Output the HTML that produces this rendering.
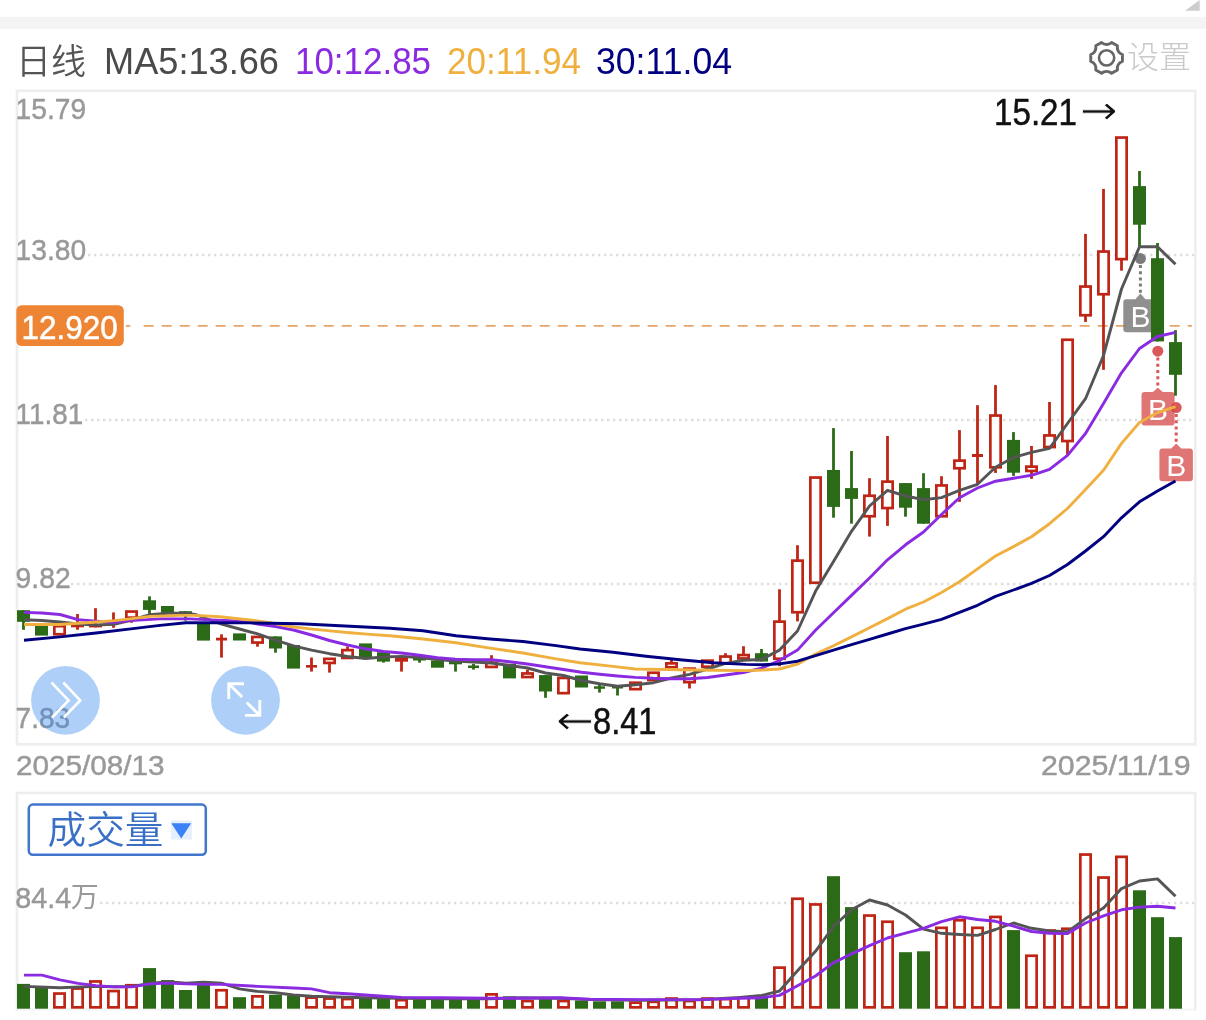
<!DOCTYPE html>
<html lang="zh-CN"><head><meta charset="utf-8"><title>日线</title>
<style>html,body{margin:0;padding:0;background:#fff;}body{width:1206px;height:1020px;overflow:hidden;font-family:"Liberation Sans","Noto Sans CJK SC",sans-serif;}svg{display:block;}.ax{font-family:"Liberation Sans","Noto Sans CJK SC",sans-serif;fill:#999;}.hd{font-family:"Liberation Sans","Noto Sans CJK SC",sans-serif;font-size:36px;}.ma{fill:none;stroke-width:2.9;stroke-linejoin:round;stroke-linecap:butt;}</style></head><body>
<svg width="1206" height="1020" viewBox="0 0 1206 1020">
<rect x="0" y="0" width="1206" height="1020" fill="#fff"/>
<rect x="0" y="16.9" width="1206" height="12" fill="#f4f4f4"/>
<polygon points="1199.7,0 1199.7,10.8 1185,10.8" fill="#cdcdcd"/>
<text class="hd" x="16" y="74" font-weight="350" fill="#555" style="font-size:35px">日线</text>
<text class="hd" x="104" y="73.8" fill="#4a4a4a" textLength="175" lengthAdjust="spacingAndGlyphs">MA5:13.66</text>
<text class="hd" x="295" y="73.8" fill="#8a2be2" textLength="136" lengthAdjust="spacingAndGlyphs">10:12.85</text>
<text class="hd" x="447" y="73.8" fill="#f0b040" textLength="134" lengthAdjust="spacingAndGlyphs">20:11.94</text>
<text class="hd" x="596" y="73.8" fill="#000080" textLength="136" lengthAdjust="spacingAndGlyphs">30:11.04</text>
<path d="M1122.45,54.53 L1122.45,61.27 A7.4,7.4 0 0 0 1117.44,69.94 L1111.61,73.31 A7.4,7.4 0 0 0 1101.59,73.31 L1095.76,69.94 A7.4,7.4 0 0 0 1090.75,61.27 L1090.75,54.53 A7.4,7.4 0 0 0 1095.76,45.86 L1101.59,42.49 A7.4,7.4 0 0 0 1111.61,42.49 L1117.44,45.86 A7.4,7.4 0 0 0 1122.45,54.53Z" fill="none" stroke="#666" stroke-width="2.9" stroke-linejoin="round"/>
<circle cx="1106.6" cy="57.9" r="7.6" fill="none" stroke="#666" stroke-width="2.6"/>
<text x="1127" y="67.8" font-size="31" font-weight="300" fill="#cacaca" style="font-family:'Liberation Sans','Noto Sans CJK SC',sans-serif" textLength="64" lengthAdjust="spacingAndGlyphs">设置</text>
<rect x="17" y="90.8" width="1178.3" height="653.6" fill="none" stroke="#eeeeee" stroke-width="2.7"/>
<line x1="88" y1="255" x2="1194" y2="255" stroke="#dedede" stroke-width="2.4" stroke-dasharray="2.4 3.6"/>
<line x1="85" y1="420" x2="1194" y2="420" stroke="#dedede" stroke-width="2.4" stroke-dasharray="2.4 3.6"/>
<line x1="71" y1="584" x2="1194" y2="584" stroke="#dedede" stroke-width="2.4" stroke-dasharray="2.4 3.6"/>
<text class="ax" x="15.6" y="118.7" font-size="30" stroke="#999" stroke-width="0.45" textLength="70.5" lengthAdjust="spacingAndGlyphs">15.79</text>
<text class="ax" x="15.6" y="259.6" font-size="30" stroke="#999" stroke-width="0.45" textLength="70.5" lengthAdjust="spacingAndGlyphs">13.80</text>
<text class="ax" x="15.6" y="424" font-size="30" stroke="#999" stroke-width="0.45" textLength="67.5" lengthAdjust="spacingAndGlyphs">11.81</text>
<text class="ax" x="15.6" y="587.5" font-size="30" stroke="#999" stroke-width="0.45" textLength="55" lengthAdjust="spacingAndGlyphs">9.82</text>
<text class="ax" x="15.6" y="728" font-size="30" stroke="#999" stroke-width="0.45" textLength="54.5" lengthAdjust="spacingAndGlyphs">7.83</text>
<text class="ax" x="16" y="774.6" font-size="28" stroke="#999" stroke-width="0.45" textLength="148.5" lengthAdjust="spacingAndGlyphs">2025/08/13</text>
<text class="ax" x="1041" y="774.8" font-size="28" stroke="#999" stroke-width="0.45" textLength="149.5" lengthAdjust="spacingAndGlyphs">2025/11/19</text>
<line x1="125.8" y1="325.9" x2="130.3" y2="325.9" stroke="#e5a46a" stroke-width="1.8"/>
<line x1="143.7" y1="325.9" x2="1192" y2="325.9" stroke="#e5a46a" stroke-width="1.8" stroke-dasharray="10 8"/>
<g>
<line x1="1140.4" y1="265.0" x2="1140.4" y2="294.6" stroke="rgba(105,105,105,0.88)" stroke-width="3" stroke-dasharray="3 3.2"/>
<circle cx="1140.4" cy="258.6" r="5.5" fill="rgba(105,105,105,0.88)"/>
<path d="M1126.3,299.2 L1135.4,299.2 L1140.4,293.6 L1145.4,299.2 L1154.5,299.2 Q1157.5,299.2 1157.5,302.2 L1157.5,329.2 Q1157.5,332.2 1154.5,332.2 L1126.3,332.2 Q1123.3,332.2 1123.3,329.2 L1123.3,302.2 Q1123.3,299.2 1126.3,299.2Z" fill="rgba(118,118,118,0.82)"/>
<text x="1140.3999999999999" y="326.7" font-size="30" fill="#fff" text-anchor="middle" style="font-family:'Liberation Sans',sans-serif">B</text>
</g>
<g>
<line x1="1157.8" y1="357.59999999999997" x2="1157.8" y2="388.7" stroke="rgba(214,70,70,0.9)" stroke-width="3" stroke-dasharray="3 3.2"/>
<circle cx="1157.8" cy="351.2" r="5.5" fill="rgba(214,70,70,0.9)"/>
<path d="M1144.5,392.1 L1152.8,392.1 L1157.8,387.7 L1162.8,392.1 L1171.6,392.1 Q1174.6,392.1 1174.6,395.1 L1174.6,422.5 Q1174.6,425.5 1171.6,425.5 L1144.5,425.5 Q1141.5,425.5 1141.5,422.5 L1141.5,395.1 Q1141.5,392.1 1144.5,392.1Z" fill="rgba(217,90,90,0.84)"/>
<text x="1158.05" y="420.0" font-size="30" fill="#fff" text-anchor="middle" style="font-family:'Liberation Sans',sans-serif">B</text>
</g>
<g>
<line x1="1176.2" y1="414.0" x2="1176.2" y2="444.4" stroke="rgba(214,70,70,0.9)" stroke-width="3" stroke-dasharray="3 3.2"/>
<circle cx="1176.2" cy="407.6" r="5.5" fill="rgba(214,70,70,0.9)"/>
<path d="M1162.4,448.4 L1171.2,448.4 L1176.2,443.4 L1181.2,448.4 L1189.9,448.4 Q1192.9,448.4 1192.9,451.4 L1192.9,478.2 Q1192.9,481.2 1189.9,481.2 L1162.4,481.2 Q1159.4,481.2 1159.4,478.2 L1159.4,451.4 Q1159.4,448.4 1162.4,448.4Z" fill="rgba(217,90,90,0.84)"/>
<text x="1176.15" y="475.7" font-size="30" fill="#fff" text-anchor="middle" style="font-family:'Liberation Sans',sans-serif">B</text>
</g>
<g>
<line x1="23.5" y1="610.2" x2="23.5" y2="629.8" stroke="#2b6a17" stroke-width="2.8"/><rect x="17.00" y="610.2" width="13.0" height="11.60" fill="#2b6a17"/>
<rect x="35.00" y="624.0" width="13.0" height="11.60" fill="#2b6a17"/>
<rect x="54.35" y="626.15" width="10.30" height="8.10" fill="#fff" stroke="#bf2515" stroke-width="2.7"/>
<line x1="77.5" y1="614.0" x2="77.5" y2="625.5" stroke="#bf2515" stroke-width="2.8"/><line x1="77.5" y1="626.3" x2="77.5" y2="629.8" stroke="#bf2515" stroke-width="2.8"/><rect x="71.00" y="624.5" width="13.0" height="2.80" fill="#bf2515"/>
<line x1="95.5" y1="608.2" x2="95.5" y2="625.8" stroke="#bf2515" stroke-width="2.8"/><line x1="95.5" y1="626.4" x2="95.5" y2="627.4" stroke="#bf2515" stroke-width="2.8"/><rect x="89.00" y="624.8" width="13.0" height="2.60" fill="#bf2515"/>
<line x1="113.5" y1="612.4" x2="113.5" y2="622.8" stroke="#bf2515" stroke-width="2.8"/><line x1="113.5" y1="621.6" x2="113.5" y2="627.8" stroke="#bf2515" stroke-width="2.8"/><rect x="112.10" y="621.8" width="2.8" height="0.80" fill="#bf2515"/>
<line x1="131.5" y1="618.0" x2="131.5" y2="622.8" stroke="#bf2515" stroke-width="2.8"/><rect x="126.35" y="611.55" width="10.30" height="6.10" fill="#fff" stroke="#bf2515" stroke-width="2.7"/>
<line x1="149.5" y1="596.3" x2="149.5" y2="614.9" stroke="#2b6a17" stroke-width="2.8"/><rect x="143.00" y="600.3" width="13.0" height="9.60" fill="#2b6a17"/>
<rect x="161.00" y="606.0" width="13.0" height="7.00" fill="#2b6a17"/>
<line x1="185.5" y1="611.2" x2="185.5" y2="620.6" stroke="#2b6a17" stroke-width="2.8"/><rect x="179.00" y="611.2" width="13.0" height="4.50" fill="#2b6a17"/>
<rect x="197.00" y="622.5" width="13.0" height="18.10" fill="#2b6a17"/>
<line x1="221.5" y1="634.3" x2="221.5" y2="638.7" stroke="#bf2515" stroke-width="2.8"/><line x1="221.5" y1="639.5" x2="221.5" y2="657.6" stroke="#bf2515" stroke-width="2.8"/><rect x="216.00" y="637.7" width="11.0" height="2.80" fill="#bf2515"/>
<rect x="233.00" y="633.4" width="13.0" height="7.10" fill="#2b6a17"/>
<line x1="257.5" y1="642.9" x2="257.5" y2="646.7" stroke="#bf2515" stroke-width="2.8"/><rect x="252.35" y="636.95" width="10.30" height="5.60" fill="#fff" stroke="#bf2515" stroke-width="2.7"/>
<line x1="275.5" y1="636.4" x2="275.5" y2="652.7" stroke="#2b6a17" stroke-width="2.8"/><rect x="269.00" y="636.4" width="13.0" height="12.10" fill="#2b6a17"/>
<rect x="287.00" y="645.0" width="13.0" height="23.60" fill="#2b6a17"/>
<line x1="311.5" y1="657.5" x2="311.5" y2="666.0" stroke="#bf2515" stroke-width="2.8"/><line x1="311.5" y1="666.6" x2="311.5" y2="671.6" stroke="#bf2515" stroke-width="2.8"/><rect x="306.00" y="665.0" width="11.0" height="2.60" fill="#bf2515"/>
<line x1="329.5" y1="663.3" x2="329.5" y2="672.6" stroke="#bf2515" stroke-width="2.8"/><rect x="324.35" y="658.85" width="10.30" height="4.10" fill="#fff" stroke="#bf2515" stroke-width="2.7"/>
<line x1="347.5" y1="646.4" x2="347.5" y2="649.8" stroke="#bf2515" stroke-width="2.8"/><rect x="342.35" y="650.15" width="10.30" height="7.80" fill="#fff" stroke="#bf2515" stroke-width="2.7"/>
<rect x="359.00" y="643.4" width="13.0" height="14.60" fill="#2b6a17"/>
<line x1="383.5" y1="652.2" x2="383.5" y2="662.6" stroke="#2b6a17" stroke-width="2.8"/><rect x="377.00" y="652.2" width="13.0" height="9.40" fill="#2b6a17"/>
<line x1="401.5" y1="660.7" x2="401.5" y2="671.6" stroke="#bf2515" stroke-width="2.8"/><rect x="396.35" y="657.75" width="10.30" height="2.60" fill="#fff" stroke="#bf2515" stroke-width="2.7"/>
<line x1="419.5" y1="657.2" x2="419.5" y2="662.7" stroke="#2b6a17" stroke-width="2.8"/><rect x="413.00" y="657.2" width="13.0" height="3.30" fill="#2b6a17"/>
<rect x="431.00" y="660.5" width="13.0" height="7.20" fill="#2b6a17"/>
<line x1="455.5" y1="661.7" x2="455.5" y2="671.6" stroke="#2b6a17" stroke-width="2.8"/><rect x="449.00" y="661.7" width="13.0" height="2.60" fill="#2b6a17"/>
<line x1="473.5" y1="663.8" x2="473.5" y2="669.6" stroke="#2b6a17" stroke-width="2.8"/><rect x="468.00" y="665.5" width="11.0" height="2.50" fill="#2b6a17"/>
<line x1="491.5" y1="655.2" x2="491.5" y2="662.4" stroke="#bf2515" stroke-width="2.8"/><rect x="486.35" y="662.75" width="10.30" height="4.20" fill="#fff" stroke="#bf2515" stroke-width="2.7"/>
<rect x="503.00" y="663.8" width="13.0" height="14.60" fill="#2b6a17"/>
<line x1="527.5" y1="669.6" x2="527.5" y2="673.1" stroke="#bf2515" stroke-width="2.8"/><rect x="522.35" y="673.45" width="10.30" height="3.60" fill="#fff" stroke="#bf2515" stroke-width="2.7"/>
<line x1="545.5" y1="675.1" x2="545.5" y2="697.8" stroke="#2b6a17" stroke-width="2.8"/><rect x="539.00" y="675.1" width="13.0" height="16.40" fill="#2b6a17"/>
<rect x="558.35" y="677.95" width="10.30" height="15.20" fill="#fff" stroke="#bf2515" stroke-width="2.7"/>
<rect x="575.00" y="675.5" width="13.0" height="12.00" fill="#2b6a17"/>
<line x1="599.5" y1="684.3" x2="599.5" y2="692.6" stroke="#2b6a17" stroke-width="2.8"/><rect x="594.00" y="686.3" width="11.0" height="2.50" fill="#2b6a17"/>
<line x1="617.5" y1="685.5" x2="617.5" y2="695.5" stroke="#2b6a17" stroke-width="2.8"/><rect x="612.00" y="685.5" width="11.0" height="3.00" fill="#2b6a17"/>
<rect x="630.35" y="682.75" width="10.30" height="6.40" fill="#fff" stroke="#bf2515" stroke-width="2.7"/>
<rect x="648.35" y="672.75" width="10.30" height="7.30" fill="#fff" stroke="#bf2515" stroke-width="2.7"/>
<line x1="671.5" y1="659.8" x2="671.5" y2="663.0" stroke="#bf2515" stroke-width="2.8"/><rect x="666.35" y="663.35" width="10.30" height="3.90" fill="#fff" stroke="#bf2515" stroke-width="2.7"/>
<line x1="689.5" y1="682.5" x2="689.5" y2="688.5" stroke="#bf2515" stroke-width="2.8"/><rect x="684.35" y="668.65" width="10.30" height="13.50" fill="#fff" stroke="#bf2515" stroke-width="2.7"/>
<rect x="702.35" y="660.65" width="10.30" height="6.10" fill="#fff" stroke="#bf2515" stroke-width="2.7"/>
<line x1="725.5" y1="653.2" x2="725.5" y2="656.2" stroke="#bf2515" stroke-width="2.8"/><rect x="720.35" y="656.55" width="10.30" height="6.90" fill="#fff" stroke="#bf2515" stroke-width="2.7"/>
<line x1="743.5" y1="646.2" x2="743.5" y2="654.7" stroke="#bf2515" stroke-width="2.8"/><rect x="738.35" y="655.05" width="10.30" height="3.40" fill="#fff" stroke="#bf2515" stroke-width="2.7"/>
<line x1="761.5" y1="649.0" x2="761.5" y2="661.5" stroke="#2b6a17" stroke-width="2.8"/><rect x="755.00" y="653.2" width="13.0" height="8.30" fill="#2b6a17"/>
<line x1="779.5" y1="589.3" x2="779.5" y2="621.3" stroke="#bf2515" stroke-width="2.8"/><line x1="779.5" y1="659.1" x2="779.5" y2="666.2" stroke="#bf2515" stroke-width="2.8"/><rect x="774.35" y="621.65" width="10.30" height="37.10" fill="#fff" stroke="#bf2515" stroke-width="2.7"/>
<line x1="797.5" y1="545.2" x2="797.5" y2="560.3" stroke="#bf2515" stroke-width="2.8"/><line x1="797.5" y1="612.6" x2="797.5" y2="621.4" stroke="#bf2515" stroke-width="2.8"/><rect x="792.35" y="560.65" width="10.30" height="51.60" fill="#fff" stroke="#bf2515" stroke-width="2.7"/>
<rect x="810.35" y="477.55" width="10.30" height="105.20" fill="#fff" stroke="#bf2515" stroke-width="2.7"/>
<line x1="833.5" y1="428.1" x2="833.5" y2="517.7" stroke="#2b6a17" stroke-width="2.8"/><rect x="827.00" y="470.0" width="13.0" height="36.90" fill="#2b6a17"/>
<line x1="851.5" y1="451.0" x2="851.5" y2="523.7" stroke="#2b6a17" stroke-width="2.8"/><rect x="845.00" y="488.1" width="13.0" height="10.80" fill="#2b6a17"/>
<line x1="869.5" y1="478.2" x2="869.5" y2="495.4" stroke="#bf2515" stroke-width="2.8"/><line x1="869.5" y1="516.6" x2="869.5" y2="536.6" stroke="#bf2515" stroke-width="2.8"/><rect x="864.35" y="495.75" width="10.30" height="20.50" fill="#fff" stroke="#bf2515" stroke-width="2.7"/>
<line x1="887.5" y1="436.0" x2="887.5" y2="481.3" stroke="#bf2515" stroke-width="2.8"/><line x1="887.5" y1="508.4" x2="887.5" y2="525.9" stroke="#bf2515" stroke-width="2.8"/><rect x="882.35" y="481.65" width="10.30" height="26.40" fill="#fff" stroke="#bf2515" stroke-width="2.7"/>
<line x1="905.5" y1="483.1" x2="905.5" y2="516.7" stroke="#2b6a17" stroke-width="2.8"/><rect x="899.00" y="483.1" width="13.0" height="24.60" fill="#2b6a17"/>
<line x1="923.5" y1="473.2" x2="923.5" y2="523.7" stroke="#2b6a17" stroke-width="2.8"/><rect x="917.00" y="488.1" width="13.0" height="35.60" fill="#2b6a17"/>
<line x1="941.5" y1="476.2" x2="941.5" y2="485.1" stroke="#bf2515" stroke-width="2.8"/><rect x="936.35" y="485.45" width="10.30" height="30.80" fill="#fff" stroke="#bf2515" stroke-width="2.7"/>
<line x1="959.5" y1="430.1" x2="959.5" y2="460.3" stroke="#bf2515" stroke-width="2.8"/><line x1="959.5" y1="468.6" x2="959.5" y2="501.9" stroke="#bf2515" stroke-width="2.8"/><rect x="954.35" y="460.65" width="10.30" height="7.60" fill="#fff" stroke="#bf2515" stroke-width="2.7"/>
<line x1="977.5" y1="405.2" x2="977.5" y2="455.0" stroke="#bf2515" stroke-width="2.8"/><line x1="977.5" y1="456.0" x2="977.5" y2="484.8" stroke="#bf2515" stroke-width="2.8"/><rect x="972.00" y="454.0" width="11.0" height="3.00" fill="#bf2515"/>
<line x1="995.5" y1="385.1" x2="995.5" y2="415.2" stroke="#bf2515" stroke-width="2.8"/><line x1="995.5" y1="467.7" x2="995.5" y2="472.9" stroke="#bf2515" stroke-width="2.8"/><rect x="990.35" y="415.55" width="10.30" height="51.80" fill="#fff" stroke="#bf2515" stroke-width="2.7"/>
<line x1="1013.5" y1="432.1" x2="1013.5" y2="475.9" stroke="#2b6a17" stroke-width="2.8"/><rect x="1007.00" y="439.9" width="13.0" height="32.80" fill="#2b6a17"/>
<line x1="1031.5" y1="446.0" x2="1031.5" y2="466.3" stroke="#bf2515" stroke-width="2.8"/><line x1="1031.5" y1="471.3" x2="1031.5" y2="478.9" stroke="#bf2515" stroke-width="2.8"/><rect x="1026.35" y="466.65" width="10.30" height="4.30" fill="#fff" stroke="#bf2515" stroke-width="2.7"/>
<line x1="1049.5" y1="402.0" x2="1049.5" y2="435.1" stroke="#bf2515" stroke-width="2.8"/><rect x="1044.35" y="435.45" width="10.30" height="11.60" fill="#fff" stroke="#bf2515" stroke-width="2.7"/>
<line x1="1067.5" y1="441.4" x2="1067.5" y2="455.8" stroke="#bf2515" stroke-width="2.8"/><rect x="1062.35" y="339.75" width="10.30" height="101.30" fill="#fff" stroke="#bf2515" stroke-width="2.7"/>
<line x1="1085.5" y1="233.9" x2="1085.5" y2="286.2" stroke="#bf2515" stroke-width="2.8"/><line x1="1085.5" y1="315.6" x2="1085.5" y2="321.9" stroke="#bf2515" stroke-width="2.8"/><rect x="1080.35" y="286.55" width="10.30" height="28.70" fill="#fff" stroke="#bf2515" stroke-width="2.7"/>
<line x1="1103.5" y1="188.9" x2="1103.5" y2="251.2" stroke="#bf2515" stroke-width="2.8"/><line x1="1103.5" y1="294.6" x2="1103.5" y2="369.8" stroke="#bf2515" stroke-width="2.8"/><rect x="1098.35" y="251.55" width="10.30" height="42.70" fill="#fff" stroke="#bf2515" stroke-width="2.7"/>
<line x1="1121.5" y1="259.5" x2="1121.5" y2="270.7" stroke="#bf2515" stroke-width="2.8"/><rect x="1116.35" y="137.55" width="10.30" height="121.60" fill="#fff" stroke="#bf2515" stroke-width="2.7"/>
<line x1="1139.5" y1="171.0" x2="1139.5" y2="247.0" stroke="#2b6a17" stroke-width="2.8"/><rect x="1133.00" y="186.1" width="13.0" height="38.60" fill="#2b6a17"/>
<line x1="1157.5" y1="243.0" x2="1157.5" y2="341.4" stroke="#2b6a17" stroke-width="2.8"/><rect x="1151.00" y="258.2" width="13.0" height="83.20" fill="#2b6a17"/>
<line x1="1175.5" y1="330.1" x2="1175.5" y2="395.7" stroke="#2b6a17" stroke-width="2.8"/><rect x="1169.00" y="342.1" width="13.0" height="32.70" fill="#2b6a17"/>
</g>
<polyline class="ma" stroke="#555" points="24.0,619.8 42.0,620.5 60.0,622.0 78.0,624.0 96.0,625.0 114.0,624.3 132.0,620.0 150.0,614.6 168.0,613.2 186.0,613.2 195.0,614.4 203.5,617.5 221.5,624.2 239.5,629.0 257.5,633.8 275.5,640.2 293.5,645.8 311.5,650.2 329.5,653.7 347.5,656.5 365.5,658.5 383.5,657.0 401.5,656.4 419.5,657.5 437.5,659.5 455.5,661.0 473.5,662.0 491.5,663.0 509.5,665.5 527.5,668.0 545.5,673.0 563.5,675.5 581.5,680.5 599.5,683.8 617.5,686.3 635.5,684.7 653.5,682.7 671.5,678.0 689.5,674.4 707.5,669.0 725.5,663.4 743.5,660.3 761.5,659.5 779.5,650.1 797.5,631.0 815.5,591.3 833.5,561.4 851.5,531.3 869.5,506.0 887.5,490.3 905.5,496.0 923.5,499.7 941.5,497.6 959.5,490.3 977.5,484.3 995.5,467.3 1013.5,457.4 1031.5,452.4 1049.5,448.4 1067.5,423.5 1085.5,398.7 1103.5,355.5 1121.5,289.0 1139.5,246.8 1157.5,246.8 1175.5,264.2"/>
<polyline class="ma" stroke="#8a2be2" points="24.0,612.4 42.0,613.0 60.0,614.5 78.0,619.6 96.0,621.2 114.0,622.4 130.0,620.6 160.0,618.9 190.0,618.9 210.0,619.9 230.0,620.8 250.0,622.3 257.5,624.0 275.5,626.5 293.5,630.0 311.5,635.0 329.5,640.5 347.5,645.0 365.5,648.8 383.5,651.5 401.5,653.0 419.5,655.3 437.5,657.8 455.5,659.3 473.5,659.6 491.5,659.8 509.5,661.8 527.5,664.0 545.5,666.8 563.5,669.5 581.5,672.3 599.5,674.3 617.5,676.0 635.5,677.4 653.5,678.3 671.5,678.8 689.5,678.7 707.5,677.5 725.5,675.0 743.5,672.5 761.5,668.2 779.5,660.6 797.5,650.1 815.5,630.2 833.5,612.8 851.5,595.4 869.5,578.0 887.5,559.8 905.5,544.8 923.5,532.0 941.5,514.5 959.5,497.7 977.5,488.0 995.5,481.2 1013.5,478.3 1031.5,475.3 1049.5,469.3 1067.5,455.4 1085.5,433.5 1103.5,403.6 1121.5,372.8 1139.5,348.5 1157.5,336.5 1175.5,332.3"/>
<polyline class="ma" stroke="#f0b040" points="24.0,624.5 60.0,624.5 93.0,622.3 114.0,620.6 130.0,618.9 150.0,616.4 180.0,615.4 195.0,615.4 220.0,616.7 250.0,620.0 270.0,622.6 290.0,626.5 310.0,628.9 330.0,630.9 350.0,632.7 370.0,634.4 390.0,635.7 423.0,639.0 456.0,642.8 490.0,648.1 523.0,653.0 556.0,658.9 580.0,662.8 613.0,666.4 635.0,669.0 680.0,669.8 713.0,670.2 746.0,670.6 763.0,670.0 779.5,669.0 797.5,664.2 815.5,654.0 833.5,645.7 851.5,636.9 869.5,627.7 887.5,618.6 905.5,609.2 923.5,602.0 941.5,592.5 959.5,581.8 977.5,568.9 995.5,556.0 1013.5,546.6 1031.5,536.7 1049.5,523.7 1067.5,508.5 1085.5,489.5 1103.5,470.2 1121.5,443.4 1139.5,422.5 1157.5,412.6 1175.5,406.6"/>
<polyline class="ma" stroke="#000080" points="24.0,640.2 60.0,636.9 96.0,633.0 135.0,628.4 160.0,625.4 186.0,622.8 250.0,622.9 300.0,623.8 390.0,628.2 423.0,630.7 456.0,635.7 490.0,639.0 523.0,641.5 556.0,645.6 580.0,649.0 613.0,652.3 646.0,656.2 680.0,659.8 713.0,662.8 746.0,664.4 763.0,664.8 779.5,663.9 797.5,661.2 815.5,655.6 833.5,650.1 851.5,644.7 869.5,639.4 887.5,634.0 905.5,628.6 923.5,624.1 941.5,619.4 959.5,612.3 977.5,605.3 995.5,596.4 1013.5,590.0 1031.5,583.4 1049.5,575.5 1067.5,564.5 1085.5,551.0 1103.5,536.7 1121.5,517.8 1139.5,501.8 1157.5,490.9 1175.5,480.9"/>
<rect x="16.3" y="305.2" width="107.5" height="40.8" rx="5.5" fill="#ee8535"/>
<text x="21.6" y="339.4" font-size="33" fill="#fff" stroke="#fff" stroke-width="0.5" textLength="96" lengthAdjust="spacingAndGlyphs" style="font-family:'Liberation Sans',sans-serif">12.920</text>
<text x="994" y="125" font-size="36.5" fill="#111" stroke="#111" stroke-width="0.5" textLength="83" lengthAdjust="spacingAndGlyphs" style="font-family:'Liberation Sans',sans-serif">15.21</text>
<text x="1080" y="124" font-size="40" fill="#111" stroke="#fff" stroke-width="0.8" textLength="38" lengthAdjust="spacingAndGlyphs" style="font-family:'DejaVu Sans',sans-serif">→</text>
<text x="593" y="734" font-size="36.5" fill="#111" stroke="#111" stroke-width="0.5" textLength="63.5" lengthAdjust="spacingAndGlyphs" style="font-family:'Liberation Sans',sans-serif">8.41</text>
<text x="556" y="734" font-size="40" fill="#111" stroke="#fff" stroke-width="0.8" textLength="38" lengthAdjust="spacingAndGlyphs" style="font-family:'DejaVu Sans',sans-serif">←</text>
<circle cx="65.5" cy="700.3" r="34.4" fill="rgba(52,135,235,0.4)"/>
<polyline points="51.5,682.5 68.6,700.4 52.1,717.5" fill="none" stroke="#fff" stroke-width="2.6"/>
<polyline points="63.3,682.5 80.2,700.4 63.8,717.5" fill="none" stroke="#fff" stroke-width="2.6"/>
<circle cx="245.5" cy="700.3" r="34.4" fill="rgba(52,135,235,0.4)"/>
<path d="M244,683.7 L228.75,683.7 L228.75,699 M228.75,683.7 L242.1,697.1" fill="none" stroke="#fff" stroke-width="2.9" stroke-linejoin="miter"/>
<path d="M245,715.4 L259.8,715.4 L259.8,700 M259.8,715.4 L246.7,702.5" fill="none" stroke="#fff" stroke-width="2.9" stroke-linejoin="miter"/>
<polyline points="17,1010.5 17,793 1195.3,793 1195.3,1010.5" fill="none" stroke="#eeeeee" stroke-width="2.7"/>
<line x1="15.6" y1="1009.6" x2="1196.6" y2="1009.6" stroke="#f4f4f4" stroke-width="1.8"/>
<line x1="100" y1="903" x2="1194" y2="903" stroke="#dedede" stroke-width="2.4" stroke-dasharray="2.4 3.6"/>
<g>
<rect x="17.00" y="983.9" width="13.0" height="24.80" fill="#2b6a17"/>
<rect x="35.00" y="987.2" width="13.0" height="21.50" fill="#2b6a17"/>
<rect x="54.35" y="993.55" width="10.30" height="13.80" fill="#fff" stroke="#bf2515" stroke-width="2.7"/>
<rect x="72.35" y="988.55" width="10.30" height="18.80" fill="#fff" stroke="#bf2515" stroke-width="2.7"/>
<rect x="90.35" y="981.45" width="10.30" height="25.90" fill="#fff" stroke="#bf2515" stroke-width="2.7"/>
<rect x="108.35" y="991.05" width="10.30" height="16.30" fill="#fff" stroke="#bf2515" stroke-width="2.7"/>
<rect x="126.35" y="985.25" width="10.30" height="22.10" fill="#fff" stroke="#bf2515" stroke-width="2.7"/>
<rect x="143.00" y="968.1" width="13.0" height="40.60" fill="#2b6a17"/>
<rect x="161.00" y="980.1" width="13.0" height="28.60" fill="#2b6a17"/>
<rect x="179.00" y="990.0" width="13.0" height="18.70" fill="#2b6a17"/>
<rect x="197.00" y="983.9" width="13.0" height="24.80" fill="#2b6a17"/>
<rect x="216.35" y="990.25" width="10.30" height="17.10" fill="#fff" stroke="#bf2515" stroke-width="2.7"/>
<rect x="233.00" y="997.2" width="13.0" height="11.50" fill="#2b6a17"/>
<rect x="252.35" y="996.35" width="10.30" height="11.00" fill="#fff" stroke="#bf2515" stroke-width="2.7"/>
<rect x="269.00" y="994.7" width="13.0" height="14.00" fill="#2b6a17"/>
<rect x="287.00" y="995.5" width="13.0" height="13.20" fill="#2b6a17"/>
<rect x="306.35" y="997.65" width="10.30" height="9.70" fill="#fff" stroke="#bf2515" stroke-width="2.7"/>
<rect x="324.35" y="998.55" width="10.30" height="8.80" fill="#fff" stroke="#bf2515" stroke-width="2.7"/>
<rect x="342.35" y="999.05" width="10.30" height="8.30" fill="#fff" stroke="#bf2515" stroke-width="2.7"/>
<rect x="359.00" y="998.0" width="13.0" height="10.70" fill="#2b6a17"/>
<rect x="377.00" y="998.3" width="13.0" height="10.40" fill="#2b6a17"/>
<rect x="396.35" y="1000.15" width="10.30" height="7.20" fill="#fff" stroke="#bf2515" stroke-width="2.7"/>
<rect x="413.00" y="999.7" width="13.0" height="9.00" fill="#2b6a17"/>
<rect x="431.00" y="999.3" width="13.0" height="9.40" fill="#2b6a17"/>
<rect x="449.00" y="999.8" width="13.0" height="8.90" fill="#2b6a17"/>
<rect x="467.00" y="999.8" width="13.0" height="8.90" fill="#2b6a17"/>
<rect x="486.35" y="994.35" width="10.30" height="13.00" fill="#fff" stroke="#bf2515" stroke-width="2.7"/>
<rect x="503.00" y="996.3" width="13.0" height="12.40" fill="#2b6a17"/>
<rect x="522.35" y="1001.05" width="10.30" height="6.30" fill="#fff" stroke="#bf2515" stroke-width="2.7"/>
<rect x="539.00" y="998.8" width="13.0" height="9.90" fill="#2b6a17"/>
<rect x="558.35" y="1001.05" width="10.30" height="6.30" fill="#fff" stroke="#bf2515" stroke-width="2.7"/>
<rect x="575.00" y="1000.5" width="13.0" height="8.20" fill="#2b6a17"/>
<rect x="593.00" y="1001.3" width="13.0" height="7.40" fill="#2b6a17"/>
<rect x="611.00" y="1001.3" width="13.0" height="7.40" fill="#2b6a17"/>
<rect x="630.35" y="1002.65" width="10.30" height="4.70" fill="#fff" stroke="#bf2515" stroke-width="2.7"/>
<rect x="648.35" y="1001.85" width="10.30" height="5.50" fill="#fff" stroke="#bf2515" stroke-width="2.7"/>
<rect x="666.35" y="998.55" width="10.30" height="8.80" fill="#fff" stroke="#bf2515" stroke-width="2.7"/>
<rect x="684.35" y="1001.05" width="10.30" height="6.30" fill="#fff" stroke="#bf2515" stroke-width="2.7"/>
<rect x="702.35" y="998.55" width="10.30" height="8.80" fill="#fff" stroke="#bf2515" stroke-width="2.7"/>
<rect x="720.35" y="999.05" width="10.30" height="8.30" fill="#fff" stroke="#bf2515" stroke-width="2.7"/>
<rect x="738.35" y="997.65" width="10.30" height="9.70" fill="#fff" stroke="#bf2515" stroke-width="2.7"/>
<rect x="755.00" y="995.5" width="13.0" height="13.20" fill="#2b6a17"/>
<rect x="774.35" y="967.65" width="10.30" height="39.70" fill="#fff" stroke="#bf2515" stroke-width="2.7"/>
<rect x="792.35" y="898.75" width="10.30" height="108.60" fill="#fff" stroke="#bf2515" stroke-width="2.7"/>
<rect x="810.35" y="904.45" width="10.30" height="102.90" fill="#fff" stroke="#bf2515" stroke-width="2.7"/>
<rect x="827.00" y="876.2" width="13.0" height="132.50" fill="#2b6a17"/>
<rect x="845.00" y="907.1" width="13.0" height="101.60" fill="#2b6a17"/>
<rect x="864.35" y="915.55" width="10.30" height="91.80" fill="#fff" stroke="#bf2515" stroke-width="2.7"/>
<rect x="882.35" y="921.75" width="10.30" height="85.60" fill="#fff" stroke="#bf2515" stroke-width="2.7"/>
<rect x="899.00" y="952.2" width="13.0" height="56.50" fill="#2b6a17"/>
<rect x="917.00" y="951.3" width="13.0" height="57.40" fill="#2b6a17"/>
<rect x="936.35" y="927.85" width="10.30" height="79.50" fill="#fff" stroke="#bf2515" stroke-width="2.7"/>
<rect x="954.35" y="920.25" width="10.30" height="87.10" fill="#fff" stroke="#bf2515" stroke-width="2.7"/>
<rect x="972.35" y="927.85" width="10.30" height="79.50" fill="#fff" stroke="#bf2515" stroke-width="2.7"/>
<rect x="990.35" y="916.95" width="10.30" height="90.40" fill="#fff" stroke="#bf2515" stroke-width="2.7"/>
<rect x="1007.00" y="930.1" width="13.0" height="78.60" fill="#2b6a17"/>
<rect x="1026.35" y="955.75" width="10.30" height="51.60" fill="#fff" stroke="#bf2515" stroke-width="2.7"/>
<rect x="1044.35" y="930.55" width="10.30" height="76.80" fill="#fff" stroke="#bf2515" stroke-width="2.7"/>
<rect x="1062.35" y="928.75" width="10.30" height="78.60" fill="#fff" stroke="#bf2515" stroke-width="2.7"/>
<rect x="1080.35" y="854.55" width="10.30" height="152.80" fill="#fff" stroke="#bf2515" stroke-width="2.7"/>
<rect x="1098.35" y="877.55" width="10.30" height="129.80" fill="#fff" stroke="#bf2515" stroke-width="2.7"/>
<rect x="1116.35" y="856.85" width="10.30" height="150.50" fill="#fff" stroke="#bf2515" stroke-width="2.7"/>
<rect x="1133.00" y="890.3" width="13.0" height="118.40" fill="#2b6a17"/>
<rect x="1151.00" y="917.2" width="13.0" height="91.50" fill="#2b6a17"/>
<rect x="1169.00" y="937.1" width="13.0" height="71.60" fill="#2b6a17"/>
</g>
<polyline class="ma" stroke="#555" points="24.0,986.4 60.0,987.7 96.0,986.4 114.0,986.8 132.0,986.5 150.0,983.4 168.0,981.7 186.0,983.1 203.5,982.2 221.5,983.1 239.5,988.9 257.5,991.4 275.5,992.7 293.5,995.0 311.5,996.3 329.5,996.7 347.5,997.2 365.5,997.7 383.5,998.0 401.5,998.3 440.0,998.8 490.0,998.8 520.0,997.8 560.0,998.2 590.0,999.6 640.0,1000.2 700.0,999.8 740.0,997.5 761.5,995.5 779.5,991.0 797.5,970.7 815.5,951.3 833.5,926.5 851.5,909.8 869.5,900.0 887.5,905.0 905.5,915.0 923.5,929.2 941.5,933.3 959.5,934.5 977.5,935.4 995.5,929.5 1013.5,923.0 1031.5,928.3 1049.5,931.0 1067.5,931.8 1085.5,918.6 1103.5,908.0 1121.5,888.6 1139.5,881.0 1157.5,878.9 1175.5,896.2"/>
<polyline class="ma" stroke="#8a2be2" points="24.0,975.1 42.0,975.1 60.0,979.8 78.0,983.4 96.0,985.6 114.0,986.9 132.0,986.9 150.0,983.9 168.0,983.1 186.0,983.9 203.5,984.4 221.5,984.4 257.5,986.4 293.5,988.0 311.5,988.9 329.5,992.7 347.5,993.8 365.5,995.0 383.5,996.3 401.5,997.4 440.0,997.8 490.0,998.3 520.0,998.3 560.0,997.7 590.0,999.3 640.0,999.6 700.0,999.6 740.0,998.3 761.5,997.7 779.5,995.4 797.5,985.7 815.5,976.0 833.5,962.7 851.5,953.9 869.5,945.6 887.5,938.0 905.5,933.1 923.5,928.3 941.5,921.6 959.5,916.8 977.5,919.5 995.5,921.3 1013.5,926.2 1031.5,931.5 1049.5,933.3 1067.5,933.6 1085.5,923.0 1103.5,915.9 1121.5,909.8 1139.5,907.1 1157.5,906.2 1175.5,908.0"/>
<text class="ax" x="15.3" y="908" font-size="30" stroke="#999" stroke-width="0.45" textLength="55.8" lengthAdjust="spacingAndGlyphs">84.4</text>
<text class="ax" x="70.8" y="906.6" font-size="28">万</text>
<rect x="28.8" y="804.6" width="177" height="50.2" rx="4" fill="#fff" stroke="#4076cd" stroke-width="2.5"/>
<text x="47.5" y="843.3" font-size="38" font-weight="350" fill="#3a6fc6" textLength="116" lengthAdjust="spacingAndGlyphs" style="font-family:'Liberation Sans','Noto Sans CJK SC',sans-serif">成交量</text>
<rect x="171" y="820.5" width="21" height="19" fill="#e6effd"/>
<text x="171.3" y="836" font-size="20" fill="#3b82f6" textLength="20" lengthAdjust="spacingAndGlyphs" style="font-family:'DejaVu Sans',sans-serif">▼</text>
</svg></body></html>
